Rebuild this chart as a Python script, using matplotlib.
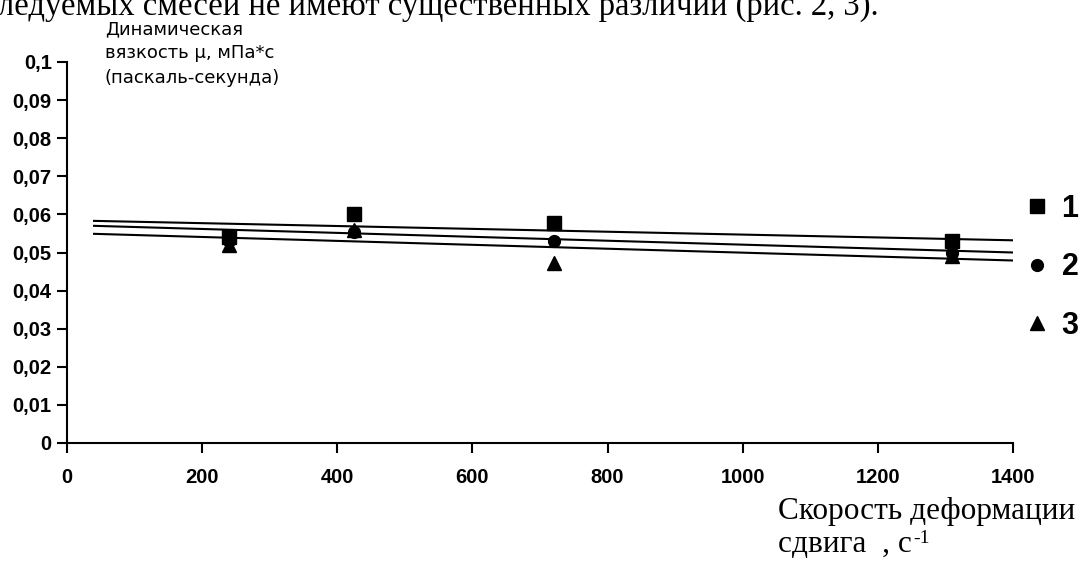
import matplotlib
matplotlib.use("Agg")
import matplotlib.pyplot as plt

# shear rate, 1/s
shear_rate = [240, 425, 720, 1310]

# dynamic viscosity for the three mixtures
visc_1 = [0.054, 0.060, 0.0577, 0.053]
visc_2 = [0.053, 0.0554, 0.053, 0.050]
visc_3 = [0.052, 0.056, 0.0473, 0.049]

# trend lines (start / end)
trend_x = [40, 1400]
trend_1 = [0.0583, 0.0532]
trend_2 = [0.0570, 0.0500]
trend_3 = [0.0549, 0.0479]

y_ticks = [0, 0.01, 0.02, 0.03, 0.04, 0.05, 0.06, 0.07, 0.08, 0.09, 0.1]
y_labels = ["0", "0,01", "0,02", "0,03", "0,04", "0,05", "0,06", "0,07", "0,08", "0,09", "0,1"]
x_ticks = [0, 200, 400, 600, 800, 1000, 1200, 1400]

W, H = 1082, 571
fig = plt.figure(figsize=(W / 100, H / 100), dpi=100)
ax = fig.add_axes([67 / W, 128 / H, 946 / W, 381 / H])

for t in (trend_1, trend_2, trend_3):
    ax.plot(trend_x, t, color="k", lw=1.5)

ax.plot(shear_rate, visc_1, "ks", ms=10.5, ls="none", label="1")
ax.plot(shear_rate, visc_2, "ko", ms=8.5, ls="none", label="2")
ax.plot(shear_rate, visc_3, "k^", ms=10, ls="none", label="3")

ax.set_xlim(0, 1400)
ax.set_ylim(0, 0.1)
ax.set_xticks(x_ticks)
ax.set_yticks(y_ticks)
ax.set_yticklabels(y_labels)
for s in ("top", "right"):
    ax.spines[s].set_visible(False)
for s in ("left", "bottom"):
    ax.spines[s].set_linewidth(1.5)
ax.tick_params(direction="out", length=7, width=1.5, labelsize=14.5)
ax.tick_params(axis="x", pad=11)
ax.tick_params(axis="y", pad=4)
for lab in ax.get_xticklabels() + ax.get_yticklabels():
    lab.set_fontweight("bold")
    lab.set_family("Liberation Sans")

leg = fig.legend(loc="upper left", bbox_to_anchor=(1028 / W, 1 - 194 / H), frameon=False,
                 borderpad=0, borderaxespad=0,
                 handlelength=0.6, handletextpad=0.5, labelspacing=0.93,
                 prop={"family": "Liberation Sans", "weight": "bold", "size": 22})

fig.text(-0.002, 1 - 15 / H, "ледуемых смесей не имеют существенных различий (рис. 2, 3).",
         family="Liberation Serif", fontsize=23.5, va="baseline", ha="left")

fig.text(105 / W, 1 - 20 / H, "Динамическая\nвязкость μ, мПа*с\n(паскаль-секунда)",
         family="DejaVu Sans", fontsize=13, va="top", ha="left", linespacing=1.45)

fig.text(778 / W, 1 - 519 / H, "Скорость деформации",
         family="Liberation Serif", fontsize=22.5, va="baseline", ha="left")
t2 = fig.text(778 / W, 1 - 552 / H, "сдвига  , с",
              family="Liberation Serif", fontsize=22.5, va="baseline", ha="left")
ax.annotate("-1", xy=(1, 1), xycoords=t2, xytext=(1, 0), textcoords="offset points",
            family="Liberation Serif", fontsize=14, va="top", ha="left",
            annotation_clip=False)

fig.savefig("out.png", dpi=100)
